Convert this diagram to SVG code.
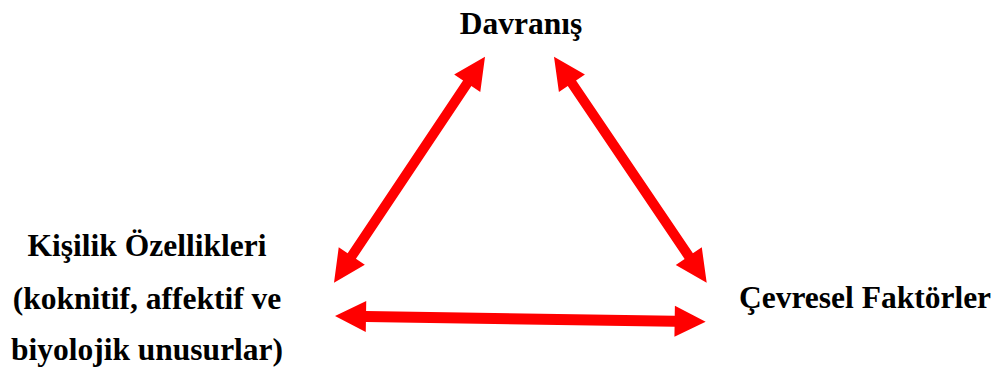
<svg xmlns="http://www.w3.org/2000/svg" width="1000" height="367" viewBox="0 0 1000 367">
<style>
.lbl{font-family:'Liberation Serif',serif;font-weight:700;font-size:31.5px;fill:#000;text-anchor:middle}
.arr{fill:#ff0000;stroke:none}
</style>
<rect width="1000" height="367" fill="#fff"/>
<g id="connectors">
<path class="arr" transform="translate(334,282.7) rotate(-56.25)" d="M0,0 L32,-15.7 L32,-5 L239.8,-5 L239.8,-15.7 L271.8,0 L239.8,15.7 L239.8,5 L32,5 L32,15.7 Z"/>
<path class="arr" transform="translate(554,56.7) rotate(55.95)" d="M0,0 L32,-15.7 L32,-5 L240.7,-5 L240.7,-15.7 L272.7,0 L240.7,15.7 L240.7,5 L32,5 L32,15.7 Z"/>
<path class="arr" transform="translate(335,316) rotate(0.88)" d="M0,0 L31,-15.5 L31,-5.5 L339.7,-5.5 L339.7,-15.5 L370.7,0 L339.7,15.5 L339.7,5.5 L31,5.5 L31,15.5 Z"/>
</g>
<g id="node-davranis"><text class="lbl" x="521" y="34">Davranış</text></g>
<g id="node-kisilik">
<text class="lbl" x="147" y="256">Kişilik Özellikleri</text>
<text class="lbl" x="147" y="309">(koknitif, affektif ve</text>
<text class="lbl" x="147" y="360">biyolojik unusurlar)</text>
</g>
<g id="node-cevresel"><text class="lbl" x="865" y="308">Çevresel Faktörler</text></g>
</svg>
